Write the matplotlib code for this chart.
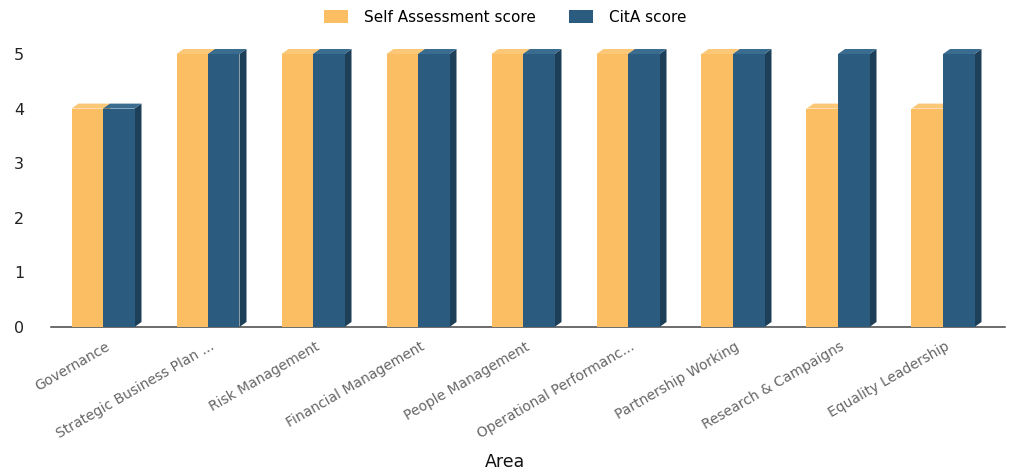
import matplotlib
matplotlib.use('Agg')
import matplotlib.pyplot as plt
from matplotlib.patches import Polygon, Patch
from matplotlib.transforms import ScaledTranslation
import numpy as np

areas = ["Governance", "Strategic Business Plan ...", "Risk Management",
         "Financial Management", "People Management", "Operational Performanc...",
         "Partnership Working", "Research & Campaigns", "Equality Leadership"]
self_scores = [4, 5, 5, 5, 5, 5, 5, 4, 4]
cita_scores = [4, 5, 5, 5, 5, 5, 5, 5, 5]
series_names = ["Self Assessment score", "CitA score"]
y_ticks = [0, 1, 2, 3, 4, 5]

plt.rcParams['font.family'] = ['DejaVu Sans']

W, H = 1010, 474
fig = plt.figure(figsize=(W / 100, H / 100), dpi=100)
ax_left, ax_right, ax_bottom, ax_top = 50.5, 995.5, 147, 420
ax = fig.add_axes([ax_left / W, ax_bottom / H, (ax_right - ax_left) / W, (ax_top - ax_bottom) / H])
ax.set_xlim(-0.5, len(areas) - 0.5)
ax.set_ylim(0, 5)

# pixel-based depth converted into data units
dx = 7 * len(areas) / (ax_right - ax_left)
dy = 5 * 5 / (ax_top - ax_bottom)

orange = '#FBBE62'
orange_top = '#FCC878'
orange_side = '#D99C45'
blue = '#2B5C7F'
blue_top = '#3A6C8F'
blue_side = '#1D3F57'

w = 0.3
x = np.arange(len(areas))


def draw_bars(xs, vals, front, top, side, z):
    bars = ax.bar(xs, vals, w, color=front, zorder=z, linewidth=0, clip_on=False)
    for b in bars:
        x0 = b.get_x()
        x1 = x0 + b.get_width()
        h = b.get_height()
        ax.add_patch(Polygon([(x1, 0), (x1 + dx, dy), (x1 + dx, h + dy), (x1, h)],
                             closed=True, facecolor=side, edgecolor='none',
                             zorder=z - 0.1, clip_on=False))
        ax.add_patch(Polygon([(x0, h), (x0 + dx, h + dy), (x1 + dx, h + dy), (x1, h)],
                             closed=True, facecolor=top, edgecolor='none',
                             zorder=z - 0.1, clip_on=False))
    return bars


draw_bars(x - w / 2, self_scores, orange, orange_top, orange_side, 2)
draw_bars(x + w / 2, cita_scores, blue, blue_top, blue_side, 3)

ax.axhline(0, xmin=0, xmax=1.01, color='#444444', lw=1.1, zorder=1.5, clip_on=False)

for s in ax.spines.values():
    s.set_visible(False)

ax.set_yticks(y_ticks)
ax.set_yticklabels([str(t) for t in y_ticks], fontsize=11.5, color='#222222')
ax.tick_params(axis='y', length=0, pad=19)
ax.set_xticks(x)
ax.set_xticklabels(areas, rotation=30, ha='right', va='top', rotation_mode='anchor',
                   fontsize=10, color='#666666')
ax.tick_params(axis='x', length=0, pad=9)
for lbl in ax.get_xticklabels():
    lbl.set_transform(lbl.get_transform() + ScaledTranslation(0.02, 0, fig.dpi_scale_trans))

fig.text(0.5, 1 - 462 / H, 'Area', ha='center', va='center', fontsize=12.5, color='#111111')

handles = [Patch(facecolor=orange, edgecolor='none'), Patch(facecolor=blue, edgecolor='none')]
fig.legend(handles, series_names, loc='center', bbox_to_anchor=(0.5, 1 - 17 / H),
           ncol=2, frameon=False, fontsize=11, handlelength=1.6, handleheight=0.9,
           columnspacing=2.2, handletextpad=1.0)

fig.savefig('out.png', dpi=100, facecolor='white')
